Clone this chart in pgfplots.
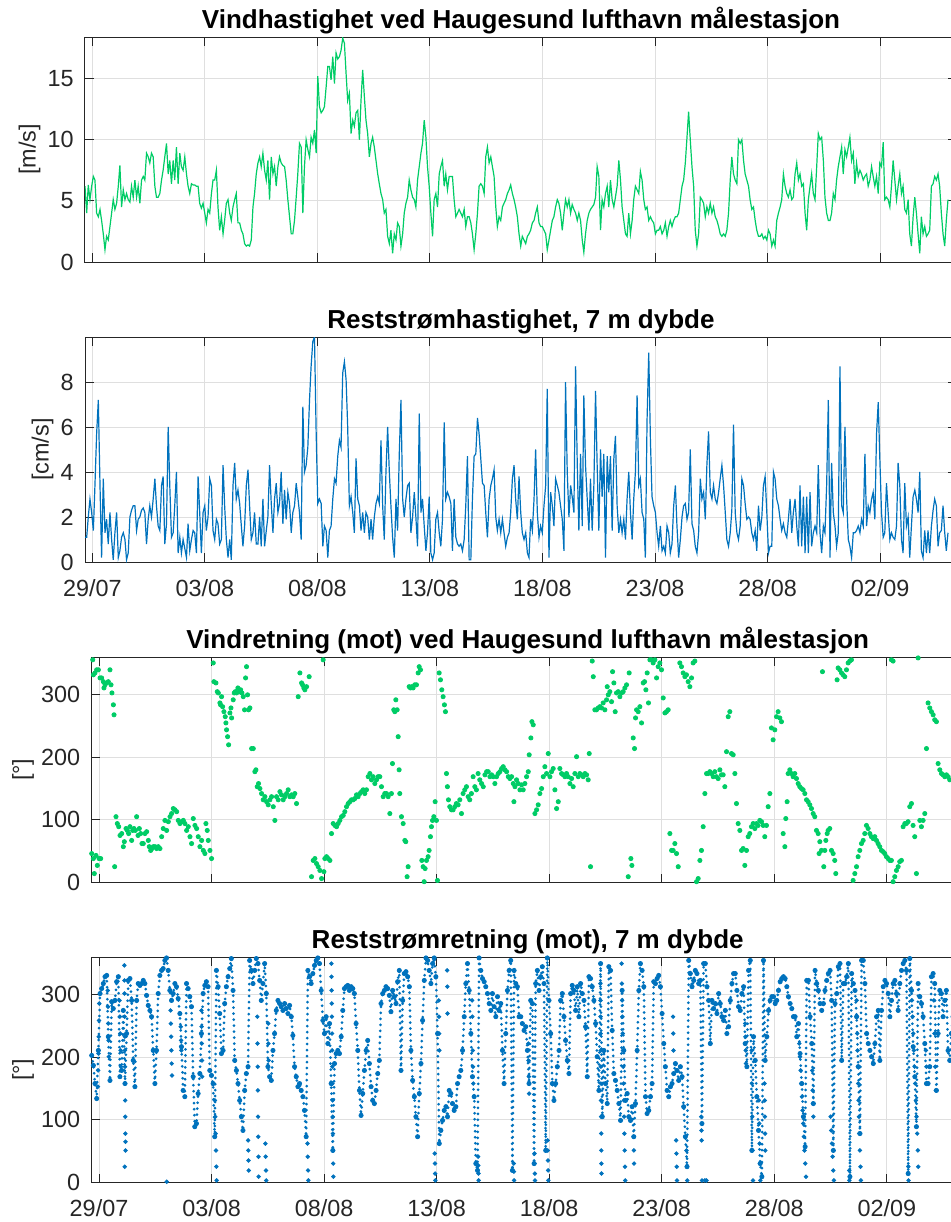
\documentclass[border=0pt]{standalone}
\usepackage{fontspec}
\setmainfont{Liberation Sans}
\usepackage{pgfplots}
\usepackage{pgfplotstable}
\pgfplotsset{compat=1.18}
\definecolor{wgreen}{RGB}{0,204,102}
\definecolor{cblue}{RGB}{0,114,189}
\definecolor{axgray}{RGB}{38,38,38}
\definecolor{gridgray}{RGB}{223,223,223}

% h = hours since 29/07 00:00; ws = wind speed [m/s]; cs = residual current speed [cm/s]; cd = residual current direction [deg]
\pgfplotstableread{
h ws cs cd
-7.8 6.2 1.1 203
-6.0 4.0 1.1 187
-4.3 6.3 2.0 158
-2.5 5.1 2.8 134
-0.7 6.2 2.2 211
1.1 7.0 1.4 302
2.8 6.7 3.4 310
4.6 4.0 5.7 318
6.4 3.7 7.2 329
8.2 4.3 3.4 331
9.9 3.4 0.2 233
11.7 2.3 3.7 163
13.5 1.0 1.3 289
15.2 2.1 1.9 278
17.0 1.8 0.8 291
18.8 2.9 2.2 321
20.6 4.0 1.0 329
22.3 5.1 0.1 169
24.1 4.3 1.3 179
25.9 4.8 2.2 275
27.7 6.2 0.2 158
29.4 7.9 0.5 238
31.2 4.5 1.1 323
33.0 5.9 1.3 326
34.8 5.1 1.0 291
36.5 5.6 0.1 195
38.3 5.1 0.4 153
40.1 4.9 2.0 291
41.8 6.2 2.3 318
43.6 5.3 2.5 315
45.4 6.7 2.5 318
47.2 5.3 1.4 323
48.9 6.2 1.9 318
50.7 4.8 2.0 299
52.5 6.7 2.3 283
54.3 7.0 2.4 275
56.0 6.7 2.2 265
57.8 8.9 0.8 211
59.6 8.6 1.9 158
61.3 8.1 2.5 211
63.1 8.9 2.0 302
64.9 8.6 2.8 331
66.7 6.2 3.7 339
68.4 5.3 2.5 342
70.2 5.3 1.6 355
72.0 5.6 1.4 359
73.8 6.7 3.4 339
75.5 7.5 3.8 307
77.3 8.6 0.8 291
79.1 9.7 1.7 302
80.9 7.2 6.0 318
82.6 8.3 3.4 313
84.4 6.4 1.1 294
86.2 8.3 1.3 270
87.9 6.7 2.5 217
89.7 9.4 4.0 147
91.5 6.4 0.4 137
93.3 8.9 1.1 318
95.0 7.8 0.4 310
96.8 7.5 1.0 297
98.6 8.6 0.6 281
100.4 7.2 0.2 169
102.1 6.2 1.7 89
103.9 5.6 0.5 94
105.7 6.4 1.0 142
107.5 6.3 1.4 174
109.2 6.3 1.3 238
111.0 6.2 0.4 302
112.8 6.2 3.8 315
114.5 4.8 2.2 321
116.3 4.4 0.4 313
118.1 4.8 2.2 179
119.9 4.0 2.5 171
121.6 3.2 1.4 158
123.4 4.3 2.0 73
125.2 4.0 3.7 339
127.0 5.6 3.4 313
128.7 6.7 1.4 270
130.5 6.7 1.0 206
132.3 7.5 1.9 211
134.0 4.5 1.7 286
135.8 2.6 0.8 313
137.6 3.7 1.0 329
139.4 2.3 4.3 342
141.1 3.4 2.5 358
142.9 4.8 1.0 307
144.7 5.1 0.2 195
146.5 4.0 1.0 179
148.2 3.4 0.1 158
150.0 4.5 3.4 131
151.8 5.1 4.4 105
153.5 5.6 2.8 83
155.3 3.2 3.2 147
157.1 3.2 2.6 174
158.9 2.6 1.6 185
160.6 2.3 0.7 355
162.4 1.5 1.6 339
164.2 1.3 3.4 318
166.0 1.4 4.1 339
167.7 1.3 2.5 358
169.5 1.8 1.0 350
171.3 4.5 1.3 323
173.0 5.6 2.2 291
174.8 7.2 0.8 318
176.6 8.1 0.8 350
178.4 8.6 2.0 302
180.1 7.8 0.7 185
181.9 8.9 2.8 169
183.7 7.5 0.7 163
185.5 6.7 1.4 211
187.2 8.3 2.0 238
189.0 5.1 4.3 275
190.8 8.6 2.6 291
192.6 7.2 1.3 286
194.3 7.8 2.8 281
196.1 6.2 3.5 275
197.9 7.8 2.2 286
199.6 8.6 2.6 278
201.4 8.1 4.0 270
203.2 7.9 1.7 283
205.0 7.8 3.2 265
206.7 6.7 1.9 235
208.5 5.1 3.1 185
210.3 3.7 2.6 169
212.1 2.3 1.3 153
213.8 2.3 2.2 158
215.6 3.4 2.5 147
217.4 5.3 3.5 137
219.1 7.2 2.9 115
220.9 9.7 2.2 73
222.7 9.4 1.0 339
224.5 4.0 6.9 329
226.2 7.8 4.0 318
228.0 10.0 4.3 334
229.8 9.2 5.1 347
231.6 8.6 7.2 355
233.3 10.2 8.7 359
235.1 9.7 9.8 350
236.9 10.8 10.0 307
238.7 8.9 5.7 259
240.4 15.2 2.6 238
242.2 12.7 2.8 265
244.0 12.2 2.6 222
245.8 12.4 0.7 254
247.5 12.7 1.6 158
249.3 14.3 1.4 51
251.1 16.0 0.2 190
252.8 16.0 1.4 206
254.6 14.9 1.6 211
256.4 16.8 2.8 206
258.2 14.6 3.7 233
259.9 17.1 3.5 275
261.7 16.6 4.7 310
263.5 16.8 5.4 313
265.2 17.3 5.1 315
267.0 18.3 8.4 307
268.8 17.9 8.9 313
270.6 15.4 8.1 310
272.3 13.2 6.0 302
274.1 13.8 2.5 254
275.9 10.5 2.9 211
277.7 11.6 2.2 147
279.4 11.1 1.3 107
281.2 12.2 4.6 142
283.0 12.4 2.8 179
284.8 10.0 2.5 211
286.5 13.2 1.4 227
288.3 15.7 2.2 190
290.1 13.5 1.3 153
291.8 11.6 2.2 131
293.6 10.5 2.0 126
295.4 8.6 1.0 147
297.2 9.7 1.9 174
298.9 10.2 1.0 195
300.7 9.4 2.0 286
302.5 8.3 2.6 302
304.3 7.2 2.9 307
306.0 6.4 2.6 313
307.8 5.6 5.4 310
309.6 5.1 2.5 299
311.3 4.0 1.0 273
313.1 4.3 4.0 307
314.9 2.1 6.0 297
316.7 1.5 4.0 286
318.4 2.6 2.5 321
320.2 0.7 1.1 339
322.0 2.3 0.2 179
323.8 1.8 2.8 291
325.5 3.2 1.4 334
327.3 2.9 4.8 337
329.1 1.3 7.2 329
330.9 2.3 2.8 313
332.6 4.0 2.0 211
334.4 4.8 2.8 163
336.2 5.3 3.4 137
337.9 6.7 3.5 105
339.7 5.9 1.3 73
341.5 5.3 2.0 142
343.3 5.1 3.1 190
345.0 4.5 2.0 259
346.8 6.7 0.7 323
348.6 7.8 6.6 359
350.4 8.9 2.2 355
352.1 9.7 2.8 339
353.9 11.6 1.6 318
355.7 10.2 0.5 350
357.4 7.8 1.3 359
359.2 6.2 2.9 329
361.0 4.0 0.4 238
362.8 2.1 0.1 62
364.5 5.1 0.4 83
366.3 5.6 1.9 99
368.1 4.5 2.2 115
369.9 7.2 1.3 121
371.6 7.8 0.7 105
373.4 8.3 1.9 147
375.2 6.2 6.2 142
376.9 7.2 2.8 126
378.7 5.9 3.1 115
380.5 7.0 2.9 121
382.3 7.0 2.6 158
384.0 7.0 0.5 169
385.8 5.1 2.8 179
387.6 3.7 1.1 211
389.4 4.0 0.8 265
391.1 4.3 0.7 318
392.9 4.0 0.8 350
394.7 3.7 0.5 307
396.5 4.3 1.0 238
398.2 2.9 2.5 169
400.0 3.7 4.7 137
401.8 3.7 0.1 30
403.6 3.2 0.1 19
405.3 2.3 2.8 359
407.1 1.0 4.7 339
408.9 2.3 4.8 326
410.7 4.0 6.4 321
412.4 6.2 5.7 313
414.2 6.4 4.6 302
416.0 6.2 3.5 286
417.8 5.6 3.4 275
419.5 8.6 2.2 302
421.3 9.4 1.1 281
423.1 8.1 2.8 265
424.9 8.6 3.4 297
426.6 7.8 3.7 275
428.4 7.0 4.1 286
430.2 4.5 2.0 211
431.9 2.9 1.4 158
433.7 3.7 1.9 238
435.5 3.4 1.3 307
437.3 4.5 1.9 339
439.0 4.8 1.3 355
440.8 5.1 0.7 19
442.6 5.6 1.1 339
444.4 5.9 1.3 318
446.1 6.3 2.2 313
447.9 5.6 3.7 265
449.7 5.1 4.3 265
451.4 4.5 2.8 254
453.2 3.7 1.9 243
455.0 2.3 3.8 249
456.8 1.3 2.2 211
458.5 2.1 1.3 158
460.3 1.8 1.0 291
462.1 1.5 1.3 286
463.9 2.1 0.4 30
465.6 2.3 0.2 318
467.4 2.6 1.9 339
469.2 3.2 1.4 307
471.0 3.4 2.8 329
472.7 4.0 5.0 345
474.5 4.5 2.2 318
476.3 3.2 1.1 51
478.0 2.9 1.6 359
479.8 2.9 1.3 291
481.6 2.6 2.5 238
483.4 2.3 3.4 158
485.1 1.0 7.7 131
486.9 1.8 0.2 158
488.7 2.6 3.1 185
490.5 3.4 2.5 211
492.2 3.7 1.6 291
494.0 4.5 3.7 302
495.8 5.1 3.4 265
497.5 4.8 3.1 227
499.3 4.0 2.5 195
501.1 2.6 1.9 174
502.9 4.0 0.5 302
504.6 5.1 8.0 315
506.4 4.5 4.0 307
508.2 5.1 2.0 275
510.0 4.0 3.4 313
511.7 4.7 2.9 265
513.5 4.3 2.2 318
515.3 4.0 8.7 302
517.1 3.4 4.3 291
518.8 4.0 1.4 249
520.6 3.4 4.8 169
522.4 1.8 1.6 329
524.1 0.8 7.4 326
525.9 2.3 4.3 313
527.7 3.4 2.8 291
529.5 4.0 1.4 254
531.2 4.3 3.7 201
533.0 4.5 1.4 147
534.8 4.7 3.4 350
536.6 5.3 7.6 105
538.3 7.8 4.3 211
540.1 7.0 1.4 158
541.9 2.6 5.0 126
543.6 5.1 2.9 345
545.4 4.5 4.8 339
547.2 5.6 0.2 243
549.0 6.2 4.7 174
550.7 4.5 3.1 163
552.5 6.7 4.7 147
554.3 5.1 1.4 126
556.1 4.5 4.6 99
557.8 5.3 5.6 307
559.6 6.2 2.5 211
561.4 8.3 1.3 131
563.2 6.7 1.9 142
564.9 4.5 1.3 105
566.7 3.4 1.9 99
568.5 2.3 1.0 121
570.2 2.1 2.8 73
572.0 4.0 4.0 126
573.8 2.3 2.2 211
575.6 3.4 1.0 307
577.3 5.1 2.8 350
579.1 6.2 4.0 339
580.9 5.9 7.4 313
582.7 5.6 3.4 137
584.4 7.4 3.7 110
586.2 6.7 2.2 115
588.0 5.1 1.9 137
589.7 4.3 0.2 158
591.5 4.5 6.3 321
593.3 3.4 9.3 318
595.1 3.7 5.4 326
596.8 3.4 2.9 331
598.6 3.2 2.5 313
600.4 2.3 2.2 270
602.2 2.6 1.3 222
603.9 2.6 0.7 185
605.7 2.9 1.6 147
607.5 2.3 0.5 137
609.3 2.6 0.7 153
611.0 3.2 0.4 158
612.8 2.1 1.6 174
614.6 2.9 1.3 190
616.3 3.4 0.4 179
618.1 2.9 0.8 163
619.9 3.4 2.5 185
621.7 3.7 3.4 169
623.4 3.7 1.6 121
625.2 4.0 0.2 73
627.0 5.1 1.0 25
628.8 6.2 2.0 355
630.5 6.7 2.5 334
632.3 8.1 2.6 313
634.1 10.2 1.9 323
635.8 12.3 2.2 339
637.6 10.0 5.0 334
639.4 7.8 1.7 318
641.2 6.2 1.4 323
642.9 2.6 0.7 94
644.7 1.3 0.4 350
646.5 2.3 1.3 350
648.3 5.3 3.7 313
650.0 5.1 2.8 291
651.8 4.8 3.1 222
653.6 3.7 1.9 291
655.3 4.5 4.3 278
657.1 4.0 5.8 286
658.9 4.8 3.1 270
660.7 4.0 2.8 302
662.4 4.5 3.4 286
664.2 3.7 2.8 265
666.0 3.4 2.6 259
667.8 2.9 3.1 275
669.5 2.3 3.7 238
671.3 2.1 4.3 249
673.1 2.3 3.4 291
674.9 2.1 2.2 318
676.6 2.6 1.0 334
678.4 4.0 0.7 334
680.2 6.7 1.3 307
681.9 8.6 2.3 281
683.7 7.2 6.1 275
685.5 6.7 2.2 302
687.3 6.4 1.3 313
689.0 10.0 1.0 222
690.8 9.7 1.6 185
692.6 10.0 3.7 339
694.4 8.3 3.4 355
696.1 7.2 2.6 51
697.9 6.7 1.9 233
699.7 6.2 2.0 195
701.4 5.1 1.9 137
703.2 4.3 1.3 83
705.0 4.5 1.0 30
706.8 3.4 1.4 9
708.5 2.6 0.5 355
710.3 2.1 2.5 195
712.1 2.1 1.4 233
713.9 2.3 2.0 275
715.6 1.9 3.4 291
717.4 2.1 3.8 297
719.2 1.8 2.2 297
721.0 2.6 0.4 286
722.7 2.3 0.7 291
724.5 1.3 0.7 307
726.3 1.8 4.0 321
728.0 1.3 3.7 326
729.8 3.4 2.8 329
731.6 4.0 2.5 326
733.4 4.5 1.9 313
735.1 5.1 1.4 297
736.9 7.2 1.7 286
738.7 6.2 1.3 278
740.5 5.6 1.1 265
742.2 5.3 1.9 265
744.0 5.9 2.8 233
745.8 5.1 1.3 254
747.5 5.3 2.2 206
749.3 7.2 2.8 158
751.1 8.1 1.6 105
752.9 6.7 0.7 57
754.6 7.2 3.4 323
756.4 6.2 0.7 323
758.2 6.4 2.9 265
760.0 4.0 0.4 222
761.7 2.6 2.9 126
763.5 5.1 0.4 339
765.3 6.2 3.1 318
767.0 7.2 0.7 307
768.8 5.6 1.3 286
770.6 5.1 1.6 275
772.4 7.8 1.3 286
774.1 10.5 4.3 307
775.9 10.0 1.3 323
777.7 10.2 0.4 334
779.5 8.3 1.6 339
781.2 5.3 1.3 291
783.0 4.0 3.4 51
784.8 3.4 7.2 286
786.6 3.4 0.2 302
788.3 4.0 4.4 345
790.1 5.6 2.2 350
791.9 5.1 1.6 195
793.6 6.7 0.7 318
795.4 7.8 1.3 318
797.2 8.6 8.7 329
799.0 9.4 2.5 350
800.7 7.2 2.2 9
802.5 9.2 6.0 334
804.3 8.6 2.8 318
806.1 9.4 1.0 307
807.8 10.2 0.7 265
809.6 8.3 0.2 185
811.4 8.9 1.3 78
813.1 6.4 1.3 355
814.9 8.1 1.4 355
816.7 7.0 1.6 318
818.5 7.5 1.3 238
820.2 7.2 1.9 222
822.0 6.7 1.6 211
823.8 7.0 4.8 201
825.6 7.2 1.6 190
827.3 6.2 2.5 222
829.1 6.7 2.2 265
830.9 7.8 2.8 275
832.6 7.0 3.1 195
834.4 6.2 1.9 275
836.2 7.0 5.7 313
838.0 5.6 7.1 323
839.7 8.1 4.6 318
841.5 7.8 2.2 302
843.3 9.8 1.1 265
845.0 5.1 1.3 291
846.8 5.3 3.5 318
848.6 5.1 2.2 323
850.4 4.5 1.0 302
852.1 6.2 1.3 275
853.9 8.3 1.1 318
855.7 6.7 1.0 339
857.5 5.1 1.6 350
859.2 6.2 4.4 355
861.0 7.2 3.4 339
862.8 5.6 1.0 14
864.5 6.2 0.4 358
866.3 4.3 3.5 307
868.1 4.0 1.6 217
869.9 5.1 2.0 169
871.6 2.3 0.2 89
873.4 1.3 1.6 318
875.2 3.7 2.9 297
877.0 5.3 3.2 286
878.7 4.0 2.8 265
880.5 2.3 2.2 222
882.3 0.7 4.0 158
884.0 3.7 0.5 158
885.8 2.3 0.2 185
887.6 2.9 1.4 329
889.4 2.1 0.4 334
891.1 2.3 1.4 318
892.9 2.6 0.4 147
894.7 6.2 1.6 238
896.5 6.4 2.3 307
898.2 7.0 2.8 302
900.0 6.7 2.5 265
901.8 7.2 0.7 291
903.5 6.2 1.3 307
905.3 4.0 1.4 211
907.1 2.3 2.5 195
908.9 1.3 1.3 238
910.6 3.4 0.5 265
912.4 5.1 1.3 254
}\maintab

% wind direction (towards) [deg]
\pgfplotstableread{
h v
-7.8 46
-6.7 356
-6.0 332
-6.0 38
-5.0 14
-4.3 335
-3.2 43
-2.5 340
-1.8 27
-0.7 340
0.0 38
1.1 327
1.8 38
2.8 327
4.6 321
5.3 311
6.4 316
8.2 319
9.9 321
11.7 340
12.8 316
13.8 303
15.3 284
16.0 268
16.7 25
18.1 105
19.5 94
21.0 89
22.4 75
24.2 78
25.9 57
27.0 65
28.8 86
30.2 83
31.6 78
33.0 89
34.8 67
35.9 83
37.3 86
38.7 83
40.1 105
41.6 75
43.0 86
44.4 78
45.8 62
47.2 62
49.0 78
50.8 81
52.6 67
53.6 57
55.1 51
56.5 54
57.9 57
59.7 57
61.4 54
63.2 57
65.0 54
66.8 73
68.5 86
70.3 99
72.1 83
73.9 97
75.7 105
77.4 110
79.2 118
81.0 116
82.8 113
84.5 99
86.3 94
88.1 97
89.9 99
91.6 94
93.4 83
95.2 89
97.0 73
98.7 62
100.5 102
102.3 91
104.1 86
105.8 73
107.6 57
109.4 67
111.2 51
112.9 46
114.0 94
115.4 83
116.5 67
118.3 51
120.0 38
121.8 351
122.5 321
124.7 319
126.1 305
127.2 303
128.9 287
129.6 284
130.7 297
131.8 281
133.2 273
134.6 265
135.3 255
136.0 244
137.1 233
138.2 220
139.6 271
140.7 279
141.4 263
143.1 292
144.2 303
145.3 305
146.7 303
148.1 311
149.5 305
151.0 308
152.4 303
153.8 297
155.2 276
156.3 327
157.3 345
158.4 300
159.5 276
160.9 279
162.7 214
164.5 214
166.2 177
167.3 180
168.7 153
170.1 158
171.6 150
173.3 142
175.1 132
176.9 137
178.7 129
180.4 124
182.2 132
184.0 137
185.8 121
187.5 99
189.3 137
191.1 132
192.9 145
194.6 140
196.4 132
198.2 137
200.0 142
201.7 148
203.5 137
205.3 140
207.1 137
208.8 142
210.6 126
212.4 297
214.2 335
216.0 319
217.0 316
218.4 311
219.5 308
221.3 313
224.1 329
226.6 9
228.4 35
230.2 38
231.9 30
233.7 25
235.5 19
237.3 6
239.0 356
239.8 17
240.8 38
242.6 41
244.4 38
246.2 35
247.9 78
249.7 94
251.5 91
253.3 89
255.0 94
256.8 99
258.6 105
260.4 107
262.1 113
263.9 121
265.7 126
267.5 129
269.2 132
271.0 132
272.8 134
274.6 140
276.3 137
278.1 142
279.9 145
281.7 148
283.4 142
285.2 148
287.0 169
288.8 174
290.5 164
292.3 169
294.1 158
295.9 164
297.6 169
299.4 169
301.2 153
303.0 137
304.7 142
306.5 142
308.3 137
310.1 110
311.8 142
312.9 190
314.3 276
315.4 273
316.5 292
317.9 276
319.0 233
320.0 180
320.7 142
322.5 105
324.3 94
326.1 67
327.1 65
328.5 9
329.6 25
330.7 313
332.1 311
333.5 313
334.9 311
336.7 316
338.5 316
340.3 335
341.4 345
342.8 340
344.2 35
345.6 25
346.7 1
347.7 22
349.2 35
350.9 41
352.0 51
353.4 73
354.5 89
355.6 99
357.0 105
358.4 129
359.8 99
360.9 3
362.7 335
364.1 324
365.5 308
366.9 297
368.3 284
369.4 273
370.5 174
371.5 153
372.6 132
374.0 121
375.8 116
377.6 116
379.4 121
381.1 126
382.9 124
384.7 132
386.5 110
388.2 142
390.0 148
391.8 153
393.6 137
395.3 132
397.1 142
398.9 169
400.7 153
402.4 148
404.2 174
406.0 164
407.9 158
409.7 153
411.5 172
413.3 177
415.0 177
416.8 169
418.6 172
420.4 169
422.1 158
423.9 169
425.7 174
427.5 177
429.3 182
431.0 185
432.8 180
434.6 177
436.4 169
438.1 166
439.9 169
441.7 158
442.4 129
443.5 153
445.2 164
447.0 158
448.8 148
450.6 156
452.3 148
454.1 158
455.9 169
457.7 177
458.7 204
460.5 231
461.6 257
463.0 252
464.8 110
466.6 116
468.3 124
470.1 142
471.9 150
473.7 169
475.4 185
477.2 174
479.0 206
480.8 169
482.5 177
484.3 182
486.1 148
487.9 118
489.7 129
491.4 182
493.2 174
495.0 172
496.8 169
498.5 174
500.3 169
502.1 158
503.9 166
505.6 153
507.4 174
509.2 201
511.0 169
512.7 174
514.5 172
516.3 169
518.1 174
519.9 172
521.6 164
522.7 206
524.1 25
525.9 354
527.0 329
528.7 276
530.5 276
532.3 279
534.1 281
535.8 279
537.6 287
539.4 276
541.2 292
541.9 313
543.0 300
544.7 305
546.5 289
547.6 337
549.0 319
550.4 273
551.8 303
553.6 305
555.4 297
557.2 303
558.9 305
560.7 311
562.5 316
564.3 9
565.3 335
567.1 38
568.2 27
569.6 231
571.0 214
572.1 263
573.2 276
574.9 273
576.7 281
578.5 255
580.3 319
581.7 321
583.1 308
584.5 335
585.9 287
587.4 356
589.1 356
590.9 351
592.7 356
594.5 327
596.2 345
598.0 351
599.8 340
601.6 295
603.4 271
605.1 273
606.9 276
608.7 78
610.5 51
612.2 51
614.0 62
615.8 46
617.6 25
619.3 351
621.1 345
622.9 335
624.7 329
626.4 332
628.2 321
630.0 313
631.8 327
633.5 351
635.3 354
637.1 1
638.9 6
640.7 35
642.4 51
644.2 89
646.0 142
647.8 174
649.5 174
651.3 177
653.1 174
654.9 169
656.6 177
658.4 169
660.2 166
662.0 180
663.7 172
665.5 172
667.3 153
669.1 209
670.9 265
672.6 273
674.4 206
676.2 204
678.0 174
679.7 126
681.5 94
683.3 83
685.1 51
686.8 54
688.6 27
690.4 51
692.2 73
693.9 78
695.7 89
697.5 94
699.3 86
701.1 94
702.8 91
704.6 99
706.4 97
708.2 91
709.9 73
711.7 91
713.5 121
715.3 142
717.0 247
718.8 228
720.6 244
722.4 265
724.1 273
725.9 263
727.7 257
729.5 78
731.3 57
732.3 102
733.7 129
734.8 174
736.6 180
738.4 174
740.1 169
741.9 174
743.7 166
745.5 158
747.2 153
749.0 150
750.8 148
752.6 142
754.4 132
756.1 129
757.9 124
759.7 118
761.5 110
763.2 105
765.0 83
766.8 78
767.8 46
768.6 65
770.3 51
771.4 337
772.8 25
773.9 51
775.0 67
776.4 78
777.4 83
779.2 86
781.0 51
782.8 46
784.5 35
785.6 14
787.0 324
788.1 343
789.9 340
791.7 335
793.4 332
795.2 329
797.0 340
798.8 351
800.5 354
802.3 356
804.1 3
805.9 14
807.7 25
809.4 41
811.2 51
813.0 62
814.8 67
816.5 78
818.3 91
820.1 86
821.9 78
823.6 73
825.4 70
827.2 73
829.0 67
830.7 62
832.5 57
834.3 51
836.1 49
837.8 46
839.6 41
841.4 38
843.2 35
844.9 35
844.9 356
846.7 1
846.7 354
848.5 9
850.3 19
852.1 25
853.8 33
855.6 35
857.4 89
859.2 94
860.9 94
862.7 97
864.5 121
866.3 126
868.0 91
869.8 73
871.6 14
873.4 359
875.2 99
876.9 89
878.7 99
880.5 110
882.3 214
884.0 287
885.8 279
887.6 273
889.4 268
891.1 260
892.9 257
894.7 190
896.5 180
898.3 174
900.0 172
901.8 169
903.6 172
905.4 169
907.1 164
}\wdtab

% extra residual-current-direction samples during fast turns [deg]
\pgfplotstableread{
h v
-1.2 153
-0.9 179
-0.6 206
-0.3 233
0.0 259
0.3 286
9.3 307
9.6 281
9.9 254
10.2 227
10.5 201
21.8 291
22.2 265
22.6 238
23.0 211
23.4 185
27.0 347
27.1 323
27.2 302
27.3 265
27.5 233
27.6 211
27.7 185
27.8 158
27.9 131
28.0 105
28.1 78
28.2 65
28.3 51
27.4 25
72.2 1
76.3 275
76.6 254
76.9 233
77.2 211
77.5 190
77.8 171
87.2 249
87.5 227
87.8 211
109.2 275
109.4 249
109.6 222
109.8 195
110.0 169
123.5 131
123.9 105
124.3 78
124.7 51
125.1 25
125.4 3
159.0 67
159.2 51
159.4 35
159.6 19
168.8 265
169.0 222
169.2 185
169.4 147
169.6 105
169.8 73
170.0 41
170.2 9
177.4 62
177.7 41
178.0 19
178.3 3
180.4 254
180.6 222
180.8 195
222.3 62
222.6 41
222.9 19
223.2 3
247.8 350
247.9 329
248.0 307
248.2 286
248.3 265
248.5 238
248.6 211
248.8 185
248.9 158
249.1 131
249.2 105
249.4 78
249.5 51
249.7 30
249.9 9
358.0 46
358.2 30
358.4 14
358.6 3
362.3 291
362.5 265
362.7 238
362.9 211
371.2 339
371.4 313
371.6 270
397.8 291
398.1 265
398.5 211
398.8 185
399.1 158
404.2 41
404.4 27
404.6 14
404.8 3
442.2 30
442.4 17
442.6 3
457.8 222
458.0 195
458.3 169
458.6 142
464.3 46
464.5 30
464.7 14
464.9 3
478.3 67
478.5 51
478.7 35
478.9 19
479.1 3
534.6 318
534.7 291
534.8 265
534.9 238
535.0 211
535.1 185
535.2 158
535.3 131
535.4 105
535.5 78
535.6 51
535.7 30
535.8 14
557.2 350
557.5 318
557.8 291
558.1 265
558.4 238
558.7 211
559.0 185
559.3 158
559.6 131
559.9 105
560.2 78
560.5 51
560.8 25
561.1 3
570.1 73
570.3 51
570.5 30
612.1 265
612.3 238
612.5 211
615.4 67
615.7 46
616.0 25
616.3 3
626.4 51
626.8 25
627.2 3
642.2 105
642.4 83
642.6 67
642.9 3
646.0 3
647.8 3
689.0 254
689.3 233
689.6 211
689.9 190
695.9 211
696.2 158
696.5 105
696.9 51
697.3 3
703.6 131
704.0 94
704.4 62
704.8 30
705.2 3
709.6 158
709.8 131
710.0 105
710.2 78
710.4 51
746.7 222
747.4 201
748.1 179
748.8 158
749.5 137
750.2 115
750.9 94
751.6 73
752.3 51
753.0 30
753.8 9
760.5 179
760.9 147
761.3 126
761.7 105
780.1 105
780.8 83
781.5 62
782.2 41
782.9 19
783.6 3
800.0 19
800.1 3
807.8 291
808.1 265
808.5 238
808.8 211
809.2 185
809.6 158
809.9 131
810.3 105
810.6 78
811.3 51
812.0 25
812.4 3
863.0 25
863.2 3
866.8 291
867.5 265
868.2 238
868.9 211
869.6 185
870.3 158
871.0 131
871.7 105
872.4 78
873.1 51
873.5 25
881.7 211
882.4 185
890.2 291
890.9 238
891.6 185
892.3 147
}\cdxtab

\pgfplotsset{
  every axis title shift=0pt,
  panel/.style={
    scale only axis, width=436pt, height=112.5pt,
    anchor=north west,
    xmin=-7.8, xmax=922, ymin=0,
    xtick={0,120,240,360,480,600,720,840},
    grid=major,
    major grid style={draw=gridgray, line width=0.45pt},
    axis line style={draw=axgray, line width=0.5pt},
    every tick/.style={draw=axgray, line width=0.5pt},
    major tick length=4.3pt,
    tick align=inside,
    /pgf/number format/assume math mode=true,
    tick label style={font=\fontsize{11.7}{14}\selectfont, text=axgray},
    yticklabel style={xshift=-2.2pt},
    xticklabel style={yshift=-5pt},
    ylabel style={font=\fontsize{11.7}{14}\selectfont, text=axgray, yshift=-3.3pt},
    title style={font=\fontsize{13}{15}\selectfont\bfseries, at={(0.5,1)}, anchor=base, yshift=4.5pt},
  },
}

\begin{document}
\begin{tikzpicture}
% Panel 1: wind speed
\begin{axis}[panel, at={(42.5pt,-18.5pt)},
  ymax=18.4, ytick={0,5,10,15}, xticklabels={},
  ylabel={[m/s]},
  title={Vindhastighet ved Haugesund lufthavn målestasjon}]
\addplot[wgreen, line width=0.6pt] table[x=h, y=ws]{\maintab};
\end{axis}
% Panel 2: residual current speed
\begin{axis}[panel, at={(42.5pt,-168.5pt)},
  ymax=10.0, ytick={0,2,4,6,8},
  xticklabels={29/07,03/08,08/08,13/08,18/08,23/08,28/08,02/09},
  ylabel={[cm/s]},
  title={Reststrømhastighet, 7 m dybde}]
\addplot[cblue, line width=0.6pt] table[x=h, y=cs]{\maintab};
\end{axis}
% Panel 3: wind direction
\begin{axis}[panel, at={(45.85pt,-328.65pt)},
  ymax=360, ytick={0,100,200,300}, xticklabels={},
  ylabel={[°]},
  title={Vindretning (mot) ved Haugesund lufthavn målestasjon}]
\addplot[only marks, mark=*, mark size=1.05pt, color=wgreen] table[x=h, y=v]{\wdtab};
\end{axis}
% Panel 4: residual current direction
\begin{axis}[panel, at={(45.85pt,-478.65pt)},
  ymax=360, ytick={0,100,200,300},
  xticklabels={29/07,03/08,08/08,13/08,18/08,23/08,28/08,02/09},
  ylabel={[°]},
  title={Reststrømretning (mot), 7 m dybde}]
\addplot[cblue, mark=none, line width=1.5pt, line cap=round, dash pattern=on 0pt off 3pt] table[x=h, y=cd]{\maintab};
\addplot[only marks, mark=*, mark size=1.05pt, color=cblue] table[x=h, y=cd]{\maintab};
\addplot[only marks, mark=*, mark size=0.9pt, color=cblue] table[x=h, y=v]{\cdxtab};
\end{axis}
\pgfresetboundingbox
\useasboundingbox (0pt,0pt) rectangle (475.5pt,-611pt);
\end{tikzpicture}
\end{document}
